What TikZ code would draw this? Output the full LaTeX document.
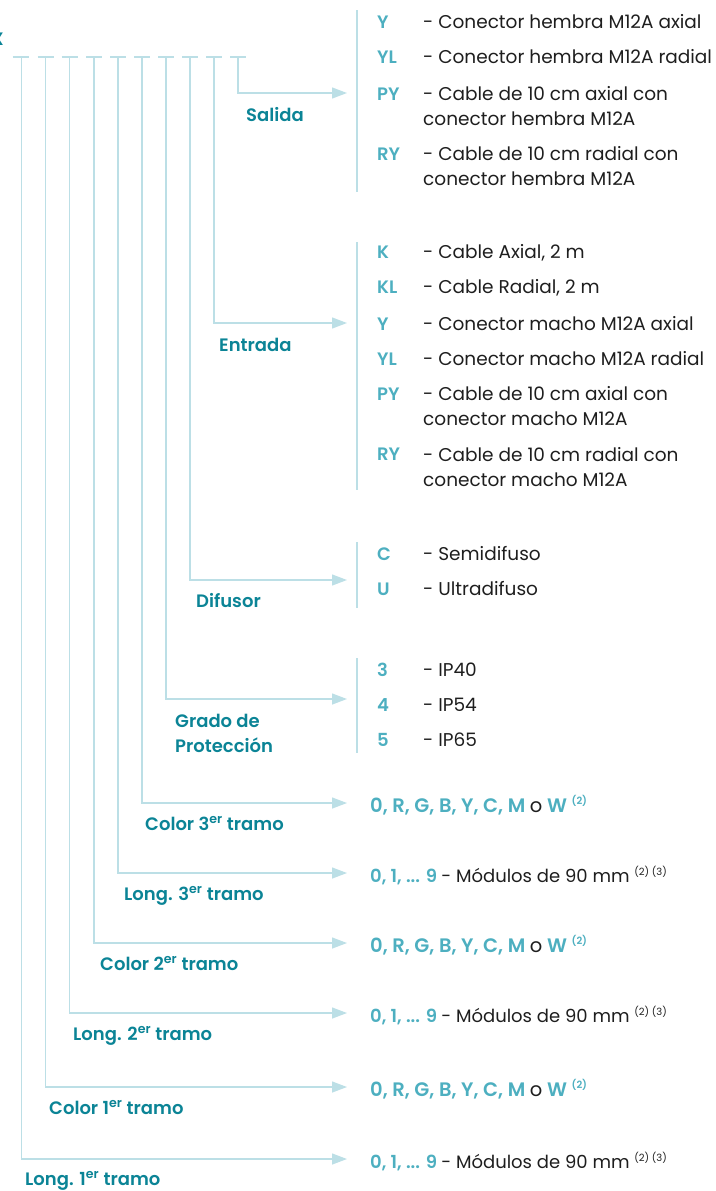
\documentclass[tikz,border=0pt]{standalone}
\usepackage{fontspec}
\setmainfont{Poppins}[BoldFont={Poppins SemiBold}]
\usepackage{tikz}
\usetikzlibrary{positioning, arrows.meta}
\definecolor{linecol}{HTML}{BCDFE6}
\definecolor{labelcol}{HTML}{0B8496}
\definecolor{codecol}{HTML}{4DAFC0}
\definecolor{textcol}{HTML}{1E1E1E}
\tikzstyle{line} = [draw=linecol, line width=1.3pt]
\tikzstyle{arrow} = [line, -{Triangle[length=15pt, width=11pt]}]
\tikzstyle{group} = [text=labelcol, font=\bfseries\fontsize{18}{25}\selectfont, anchor=base west, align=left, inner sep=0pt]
\tikzstyle{code} = [text=codecol, font=\bfseries\fontsize{18}{25}\selectfont, anchor=base west, inner sep=0pt]
\tikzstyle{colour} = [code, font=\bfseries\fontsize{19.5}{25}\selectfont]
\tikzstyle{option} = [text=textcol, font=\fontsize{18.5}{25}\selectfont, anchor=base west, align=left, inner sep=0pt]
\newcommand{\nota}[1]{\textsuperscript{\fontsize{10}{10}\selectfont #1}}

\begin{document}
\begin{tikzpicture}[x=1pt, y=-1pt]
    \useasboundingbox (0,0) rectangle (715,1191);
    % stem tops on the code line
    \coordinate (t1) at (238,57);
    \coordinate (t2) at (214,57);
    \coordinate (t3) at (190,57);
    \coordinate (t4) at (166,57);
    \coordinate (t5) at (142,57);
    \coordinate (t6) at (118,57);
    \coordinate (t7) at (94,57);
    \coordinate (t8) at (69.5,57);
    \coordinate (t9) at (45.5,57);
    \coordinate (t10) at (21.5,57);
    % arrow ends
    \coordinate (e1) at (347,93);
    \coordinate (e2) at (347,323);
    \coordinate (e3) at (347,580);
    \coordinate (e4) at (347,699);
    \coordinate (e5) at (347,803);
    \coordinate (e6) at (347,873);
    \coordinate (e7) at (347,943);
    \coordinate (e8) at (347,1013);
    \coordinate (e9) at (347,1087);
    \coordinate (e10) at (347,1159);

    \node (0) [group, anchor=base east] at (4,45) {X};
    \node (1) [group] at (246,121) {Salida};
    \node (2) [group] at (219,351) {Entrada};
    \node (3) [group] at (196,607) {Difusor};
    \node (4) [group] at (175,752) {Grado de\\Protección};
    \node (5) [group] at (145,830) {Color 3\textsuperscript{er} tramo};
    \node (6) [group] at (124,900) {Long. 3\textsuperscript{er} tramo};
    \node (7) [group] at (100,970) {Color 2\textsuperscript{er} tramo};
    \node (8) [group] at (73,1040) {Long. 2\textsuperscript{er} tramo};
    \node (9) [group] at (49,1114) {Color 1\textsuperscript{er} tramo};
    \node (10) [group] at (25,1185) {Long. 1\textsuperscript{er} tramo};

    % Salida
    \node (1a) [code] at (377,28) {Y};
    \node (1b) [code] at (377,63) {YL};
    \node (1c) [code] at (377,100) {PY};
    \node (1d) [code] at (377,160) {RY};
    \node (1at) [option] at (423,28) {- Conector hembra M12A axial};
    \node (1bt) [option] at (423,63) {- Conector hembra M12A radial};
    \node (1ct) [option] at (423,125) {- Cable de 10 cm axial con\\conector hembra M12A};
    \node (1dt) [option] at (423,185) {- Cable de 10 cm radial con\\conector hembra M12A};
    % Entrada
    \node (2a) [code] at (377,258) {K};
    \node (2b) [code] at (377,293) {KL};
    \node (2c) [code] at (377,330) {Y};
    \node (2d) [code] at (377,365) {YL};
    \node (2e) [code] at (377,400) {PY};
    \node (2f) [code] at (377,460) {RY};
    \node (2at) [option] at (423,258) {- Cable Axial, 2 m};
    \node (2bt) [option] at (423,293) {- Cable Radial, 2 m};
    \node (2ct) [option] at (423,330) {- Conector macho M12A axial};
    \node (2dt) [option] at (423,365) {- Conector macho M12A radial};
    \node (2et) [option] at (423,425) {- Cable de 10 cm axial con\\conector macho M12A};
    \node (2ft) [option] at (423,486) {- Cable de 10 cm radial con\\conector macho M12A};
    % Difusor
    \node (3a) [code] at (377,560) {C};
    \node (3b) [code] at (377,595) {U};
    \node (3at) [option] at (423,560) {- Semidifuso};
    \node (3bt) [option] at (423,595) {- Ultradifuso};
    % Grado de proteccion
    \node (4a) [code] at (377,676) {3};
    \node (4b) [code] at (377,711) {4};
    \node (4c) [code] at (377,746) {5};
    \node (4at) [option] at (423,676) {- IP40};
    \node (4bt) [option] at (423,711) {- IP54};
    \node (4ct) [option] at (423,746) {- IP65};
    % colores y longitudes
    \node (5a) [colour] at (370,812) {0, R, G, B, Y, C, M \textcolor{textcol}{\mdseries o} W \nota{(2)}};
    \node (6a) [code] at (370,882) {0, 1, ... 9 \textcolor{textcol}{\mdseries - Módulos de 90 mm \nota{(2) (3)}}};
    \node (7a) [colour] at (370,952) {0, R, G, B, Y, C, M \textcolor{textcol}{\mdseries o} W \nota{(2)}};
    \node (8a) [code] at (370,1022) {0, 1, ... 9 \textcolor{textcol}{\mdseries - Módulos de 90 mm \nota{(2) (3)}}};
    \node (9a) [colour] at (370,1096) {0, R, G, B, Y, C, M \textcolor{textcol}{\mdseries o} W \nota{(2)}};
    \node (10a) [code] at (370,1168) {0, 1, ... 9 \textcolor{textcol}{\mdseries - Módulos de 90 mm \nota{(2) (3)}}};

    % code line
    \draw [line] ([xshift=-9]t10) -- ([xshift=7]t10);
    \draw [line] ([xshift=-8]t9) -- ([xshift=8]t9);
    \draw [line] ([xshift=-8]t8) -- ([xshift=8]t8);
    \draw [line] ([xshift=-8]t7) -- ([xshift=8]t7);
    \draw [line] ([xshift=-8]t6) -- ([xshift=8]t6);
    \draw [line] ([xshift=-8]t5) -- ([xshift=8]t5);
    \draw [line] ([xshift=-8]t4) -- ([xshift=8]t4);
    \draw [line] ([xshift=-8]t3) -- ([xshift=8]t3);
    \draw [line] ([xshift=-8]t2) -- ([xshift=8]t2);
    \draw [line] ([xshift=-8]t1) -- ([xshift=8]t1);
    % option brackets
    \draw [line] (357,10) -- (357,192);
    \draw [line] (357,242) -- (357,490);
    \draw [line] (357,542) -- (357,608);
    \draw [line] (357,658) -- (357,753);
    % connectors
    \draw [arrow] (t1) |- (e1);
    \draw [arrow] (t2) |- (e2);
    \draw [arrow] (t3) |- (e3);
    \draw [arrow] (t4) |- (e4);
    \draw [arrow] (t5) |- (e5);
    \draw [arrow] (t6) |- (e6);
    \draw [arrow] (t7) |- (e7);
    \draw [arrow] (t8) |- (e8);
    \draw [arrow] (t9) |- (e9);
    \draw [arrow] (t10) |- (e10);
\end{tikzpicture}
\end{document}
